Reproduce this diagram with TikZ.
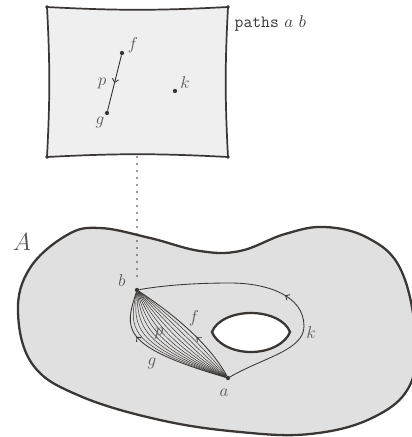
\documentclass[tikz,border=0pt]{standalone}
\usepackage{tikz}
\usetikzlibrary{arrows.meta, calc, decorations.markings}

\definecolor{ink}{HTML}{3A3634}
\definecolor{labelgray}{HTML}{555555}
\definecolor{spacefill}{HTML}{E0E0E0}
\definecolor{boxfill}{HTML}{EFEFEF}

\tikzstyle{pt} = [circle, fill=ink, inner sep=0pt, minimum size=3pt]
\tikzstyle{cornerpt} = [circle, fill=ink, inner sep=0pt, minimum size=2pt]
\tikzstyle{lbl} = [text=labelgray, inner sep=1pt, font=\large]
\tikzstyle{thickline} = [draw=ink, line width=1.6pt]
\tikzstyle{boxline} = [draw=ink, line width=1.2pt]
\tikzstyle{pathline} = [draw=ink, line width=0.6pt]
\tikzstyle{famline} = [draw=ink, line width=0.35pt]
\tikzset{midarrow/.style={postaction={decorate}, decoration={markings,
  mark=at position #1 with {\arrow{Straight Barb[length=2.4pt, width=4.5pt]}}}}}

\begin{document}
\begin{tikzpicture}[x=0.7pt, y=-0.7pt]
  \useasboundingbox (0,0) rectangle (412,437);

  % Space A
  \draw[thickline, fill=spacefill] plot[smooth cycle, tension=0.65] coordinates {
    (18,312) (30,268) (67,235) (100,228) (150,238) (200,251) (240,251)
    (285,234) (325,227) (368,238) (400,268) (415,330) (410,385)
    (372,418) (310,434) (240,432) (160,420) (80,396) (33,365)};
  \node[lbl, font=\LARGE] (Alab) at (22,242) {$A$};

  % Hole
  \draw[thickline, fill=white] (212,332) .. controls (216,321) and (232,313) .. (251,313)
    .. controls (270,313) and (286,321) .. (290,332)
    .. controls (286,343) and (270,352) .. (251,352)
    .. controls (232,352) and (216,343) .. cycle;

  % Points
  \node[pt] (a) at (228,378) {};
  \node[pt] (b) at (137,290) {};

  % Control points of f and g
  \coordinate (fc1) at (210,345);
  \coordinate (fc2) at (175,315);
  \coordinate (gc1) at (118,346);
  \coordinate (gc2) at (125,328);

  % Homotopy family
  \foreach \t in {1,...,11}
    \draw[famline] (a) .. controls ($(fc1)!\t/12!(gc1)$) and ($(fc2)!\t/12!(gc2)$) .. (b);

  % Paths
  \draw[pathline, midarrow=0.4] (a) .. controls (fc1) and (fc2) .. (b);
  \draw[pathline, midarrow=0.68] (a) .. controls (gc1) and (gc2) .. (b);
  \draw[pathline, midarrow=0.47] (a) .. controls (265,357) and (304,350) .. (304,326)
    .. controls (304,296) and (268,283) .. (230,283)
    .. controls (190,283) and (160,286) .. (b);

  \node[lbl] (blab) at (122,281) {$b$};
  \node[lbl] (alab) at (224,393) {$a$};
  \node[lbl] (flab) at (194,318) {$f$};
  \node[lbl] (plab) at (159,333) {$p$};
  \node[lbl] (glab) at (152,363) {$g$};
  \node[lbl] (klab) at (311,333) {$k$};

  % Path space
  \node[cornerpt] (sq1) at (47,7) {};
  \node[cornerpt] (sq2) at (228,7) {};
  \node[cornerpt] (sq3) at (228,157) {};
  \node[cornerpt] (sq4) at (47,157) {};
  \draw[boxline, fill=boxfill] (sq1.center) to[bend right=3] (sq2.center)
    to[bend right=3] (sq3.center) to[bend right=3] (sq4.center)
    to[bend right=3] (sq1.center);
  \foreach \c in {sq1, sq2, sq3, sq4}
    \fill[ink] (\c) circle (1.8);

  \node[pt] (fp) at (122,53) {};
  \node[pt] (gp) at (107,113) {};
  \node[pt] (kp) at (175,91) {};
  \draw[pathline, midarrow=0.5] (fp) -- (gp);

  \node[lbl] (fplab) at (133,45) {$f$};
  \node[lbl] (pplab) at (102,83) {$p$};
  \node[lbl] (gplab) at (100,122) {$g$};
  \node[lbl] (kplab) at (185,83) {$k$};

  \node[lbl, anchor=west, text=ink] (title) at (233,23) {\texttt{paths} $a$ $b$};

  % Fibre
  \coordinate (sqbot) at (137,157);
  \draw[ink, line width=1.1pt, line cap=round, dash pattern=on 0pt off 4.9pt,
    shorten >=5pt] (sqbot) -- (b);

\end{tikzpicture}
\end{document}
